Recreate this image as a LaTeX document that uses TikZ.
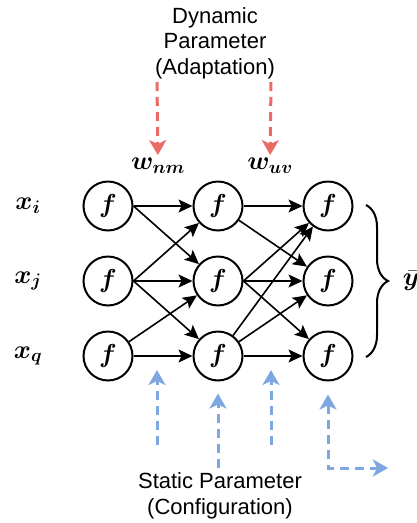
\RequirePackage{fix-cm}
\documentclass[tikz,border=0pt]{standalone}
\usepackage{fontspec}
\setmainfont{Liberation Sans}
\usepackage{bm}
\usetikzlibrary{matrix,arrows.meta,decorations.pathreplacing}

\definecolor{dynred}{HTML}{EA6B66}
\definecolor{statblue}{HTML}{7EA6E0}

\tikzset{
    big/.style={font=\fontsize{22}{25.5}\selectfont},
    bigmath/.style={font=\fontsize{26}{30}\selectfont},
    neuron/.style={draw, circle, line width=2pt, minimum size=49pt, inner sep=0pt, bigmath},
    link/.style={-{Stealth[length=14pt,width=13pt,inset=3pt]}, line width=1.6pt},
    dynarrow/.style={color=dynred, line width=3pt, dash pattern=on 9pt off 6pt, -{Stealth[length=15pt,width=17pt,inset=4pt]}},
    statarrow/.style={color=statblue, line width=3pt, dash pattern=on 9pt off 6pt, -{Stealth[length=15pt,width=17pt,inset=4pt]}}
}

\begin{document}
\begin{tikzpicture}[x=1pt,y=-1pt]
            \useasboundingbox (0,0) rectangle (417,523);
            \matrix (m) at (218,281) [matrix of math nodes, nodes={neuron}, column sep={110pt,between origins}, row sep={75pt,between origins}] {
                \bm{f} & \bm{f} & \bm{f} \\
                \bm{f} & \bm{f} & \bm{f} \\
                \bm{f} & \bm{f} & \bm{f} \\
            };
            \node[bigmath] (xi) at (28,206) {$\bm{x_i}$};
            \node[bigmath] (xj) at (28,281) {$\bm{x_j}$};
            \node[bigmath] (xq) at (28,356) {$\bm{x_q}$};
            % first layer
            \draw[link] (m-1-1.east) -- (m-1-2);
            \draw[link] (m-1-1.east) -- (m-2-2);
            \draw[link] (m-2-1.east) -- (m-1-2);
            \draw[link] (m-2-1.east) -- (m-2-2);
            \draw[link] (m-2-1.east) -- (m-3-2);
            \draw[link] (m-3-1) -- (m-2-2);
            \draw[link] (m-3-1.east) -- (m-3-2);
            % second layer
            \draw[link] (m-1-2.east) -- (m-1-3);
            \draw[link] (m-1-2) -- (m-2-3);
            \draw[link] (m-2-2.east) -- (m-1-3);
            \draw[link] (m-2-2.east) -- (m-2-3);
            \draw[link] (m-2-2.east) -- (m-3-3);
            \draw[link] (m-3-2) -- (m-1-3);
            \draw[link] (m-3-2) -- (m-2-3);
            \draw[link] (m-3-2.east) -- (m-3-3);
            % output
            \draw[line width=2pt, decorate, decoration={brace, amplitude=22pt}] (366,205) -- (366,357);
            \node[bigmath] (ybar) at (411,281) {$\bar{\bm{y}}$};
            % dynamic parameter
            \node[big, align=center] (dyn) at (215,43) {Dynamic\\Parameter\\(Adaptation)};
            \node[bigmath, inner sep=0pt] (wnm) at (158,166) {$\bm{w_{nm}}$};
            \node[bigmath, inner sep=0pt] (wuv) at (270,166) {$\bm{w_{uv}}$};
            \coordinate (dyn1) at (157,82);
            \coordinate (dyn2) at (271,82);
            \draw[dynarrow, shorten >=3pt] (dyn1) -- (wnm);
            \draw[dynarrow, shorten >=3pt] (dyn2) -- (wuv);
            % static parameter
            \node[big, align=center] (stat) at (220,496) {Static Parameter\\(Configuration)};
            \coordinate (st1a) at (157,445);
            \coordinate (st1b) at (157,370);
            \coordinate (st2) at (218,468);
            \coordinate (st3a) at (271,445);
            \coordinate (st3b) at (271,370);
            \coordinate (st4) at (328,468);
            \coordinate (out) at (388,468);
            \draw[statarrow] (st1a) -- (st1b);
            \draw[statarrow, shorten >=12pt] (st2) -- (m-3-2);
            \draw[statarrow] (st3a) -- (st3b);
            \draw[statarrow, {Stealth[length=15pt,width=17pt,inset=4pt]}-{Stealth[length=15pt,width=17pt,inset=4pt]}, shorten <=13pt] (m-3-3) -- (st4) -- (out);
        \end{tikzpicture}
\end{document}
